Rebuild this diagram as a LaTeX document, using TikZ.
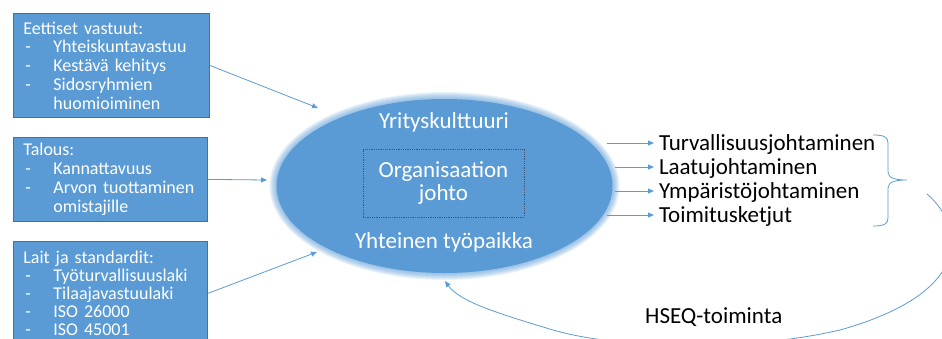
\documentclass[tikz,border=0pt]{standalone}
\usepackage{fontspec}
\setmainfont{Carlito}
\usetikzlibrary{shapes.geometric,arrows.meta}
\definecolor{officeblue}{HTML}{5B9BD5}
\definecolor{boxedge}{HTML}{41719C}
\definecolor{dotedge}{HTML}{3E5A78}
\newcommand{\dashline}[1]{\makebox[30pt][l]{\hspace{2pt}-}#1}

\begin{document}
\begin{tikzpicture}[x=1pt, y=-1pt,
	infobox/.style={rectangle, draw=boxedge, line width=0.8pt, fill=officeblue, text=white, anchor=north west, align=left, inner xsep=10pt, inner ysep=0pt, font=\fontsize{18}{18.75}\selectfont},
	flow/.style={draw=officeblue, line width=0.8pt, -{Triangle[length=6pt,width=5pt]}},
	ovaltext/.style={text=white, font=\fontsize{23}{23}\selectfont},
	target/.style={anchor=west, inner sep=0pt, outer xsep=5pt, text height=15pt, text depth=0pt, font=\fontsize{23}{23}\selectfont}]
			\useasboundingbox (0,0) rectangle (942,338);
			\clip (0,0) rectangle (942,338);
			
			% input boxes
			\node[infobox, text width=176pt, minimum height=104pt] (eth) at (13,13) {Eettiset vastuut:\\\dashline{Yhteiskuntavastuu}\\\dashline{Kestävä kehitys}\\\dashline{Sidosryhmien}\\\hspace*{30pt}huomioiminen};
			\node[infobox, text width=174pt, minimum height=84pt] (fin) at (13,137) {Talous:\\\dashline{Kannattavuus}\\\dashline{Arvon tuottaminen}\\\hspace*{30pt}omistajille};
			\node[infobox, text width=174pt, minimum height=104pt, font=\fontsize{18}{18}\selectfont] (law) at (13,241) {Lait ja standardit:\\\dashline{Työturvallisuuslaki}\\\dashline{Tilaajavastuulaki}\\\dashline{ISO 26000}\\\dashline{ISO 45001}};
			
			% soft oval
			\coordinate (oc) at (444.5,186);
			\foreach \d in {1,...,8}
				\fill[officeblue, opacity=0.12] (oc) ellipse [x radius=167+\d, y radius=86+\d];
			\node[ellipse, fill=officeblue, minimum width=336pt, minimum height=174pt, inner sep=0pt] (org) at (oc) {};
			
			\node[ovaltext, anchor=base] (culture) at (444,128) {Yrityskulttuuri};
			\node[ovaltext, anchor=base] (workplace) at (444,248) {Yhteinen työpaikka};
			\node[ovaltext, draw=dotedge, densely dotted, line width=0.8pt, align=center, minimum width=161pt, minimum height=68pt] (lead) at (443.5,183) {Organisaation\\johto};
			
			% arrows in
			\coordinate (i1) at (318,108);
			\coordinate (i2) at (267,180);
			\coordinate (i3) at (317,252);
			\path[flow] (eth.east) -- (i1);
			\path[flow] (fin.east) -- (i2);
			\path[flow] (law.east) -- (i3);
			
			% outputs
			\node[target] (turv) at (654,143) {Turvallisuusjohtaminen};
			\node[target] (laatu) at (654,167) {Laatujohtaminen};
			\node[target] (ymp) at (654,191) {Ympäristöjohtaminen};
			\node[target] (toim) at (654,215) {Toimitusketjut};
			\coordinate (o1) at (607,143);
			\coordinate (o2) at (615,167);
			\coordinate (o3) at (615,191);
			\coordinate (o4) at (607,215);
			\path[flow] (o1) -- (turv.west);
			\path[flow] (o2) -- (laatu.west);
			\path[flow] (o3) -- (ymp.west);
			\path[flow] (o4) -- (toim.west);
			
			% brace and loop back
			\draw[officeblue, line width=0.8pt] (873,135) .. controls (884,135) and (888,137) .. (888,143) -- (888,172) .. controls (888,178) and (895,180) .. (907,180) .. controls (895,180) and (888,182) .. (888,188) -- (888,218) .. controls (888,224) and (884,226) .. (873,226);
			\coordinate (back) at (927,194);
			\coordinate (ret) at (445,281);
			\path[flow] (back) .. controls (960,222) and (982,290) .. (840,330) .. controls (740,353) and (615,348) .. (553,330) .. controls (500,314) and (460,302) .. (ret);
			
			\node[anchor=base west, inner sep=0pt, font=\fontsize{23}{23}\selectfont] (hseq) at (645,323) {HSEQ-toiminta};
\end{tikzpicture}
\end{document}
